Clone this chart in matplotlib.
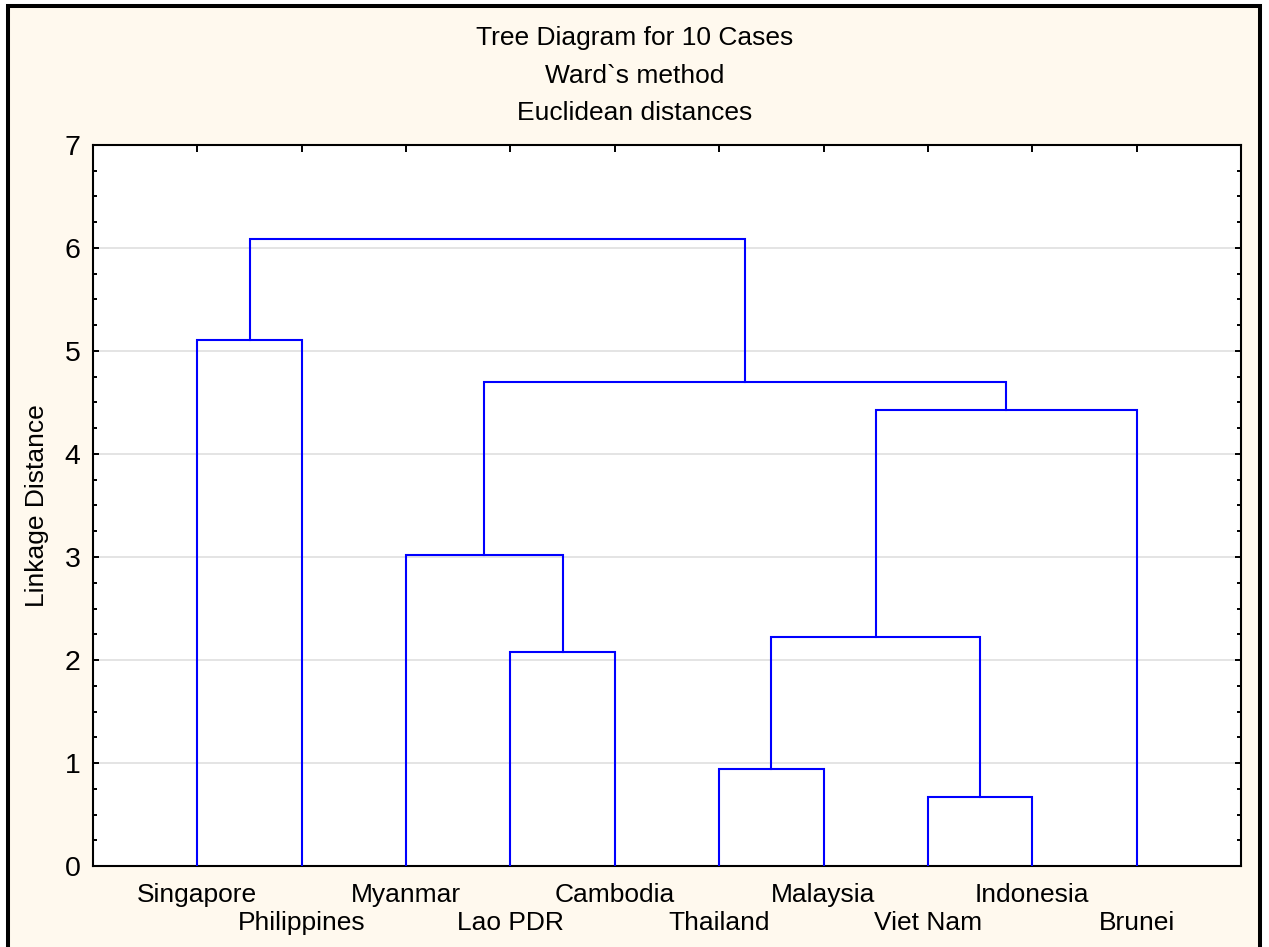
import matplotlib
matplotlib.use("Agg")
import matplotlib.pyplot as plt
from matplotlib.patches import Rectangle
from matplotlib.ticker import MultipleLocator

plt.rcParams['font.family'] = ['Liberation Sans', 'DejaVu Sans']

# Leaf order (left to right)
labels = ["Singapore", "Philippines", "Myanmar", "Lao PDR", "Cambodia",
          "Thailand", "Malaysia", "Viet Nam", "Indonesia", "Brunei"]
# Merges: (child a, child b, linkage distance); leaves 0-9, new clusters 10+
merge_a = [0, 3, 2, 5, 7, 13, 15, 12, 10]
merge_b = [1, 4, 11, 6, 8, 14, 9, 16, 17]
merge_h = [5.11, 2.08, 3.02, 0.94, 0.67, 2.22, 4.43, 4.70, 6.09]

W, H = 1269, 947
fig = plt.figure(figsize=(W / 100, H / 100), dpi=100, facecolor="white")

# cream background with black frame (left, top, right)
bg = Rectangle((8 / W, -0.05), (1260 - 8) / W, (941 / H) + 0.05,
               transform=fig.transFigure, facecolor="#FFF9EE",
               edgecolor="black", linewidth=2.9, zorder=-10)
fig.patches.append(bg)

ax = fig.add_axes([93 / W, 1 - 866 / H, (1241 - 93) / W, (866 - 145) / H])
ax.set_facecolor("white")

n = len(labels)
xpos = {i: i + 1 for i in range(n)}
ypos = {i: 0.0 for i in range(n)}
for k, (a, b, h) in enumerate(zip(merge_a, merge_b, merge_h)):
    xa, xb = xpos[a], xpos[b]
    ya, yb = ypos[a], ypos[b]
    ax.plot([xa, xa, xb, xb], [ya, h, h, yb], color="#0000FF", lw=1.5,
            solid_joinstyle="miter", zorder=3)
    xpos[n + k] = (xa + xb) / 2
    ypos[n + k] = h

ax.set_xlim(0, n + 1)
ax.set_ylim(0, 7)

ax.yaxis.set_major_locator(MultipleLocator(1))
ax.yaxis.set_minor_locator(MultipleLocator(0.25))
ax.yaxis.grid(True, which="major", color="#E4E4E4", lw=1.4, zorder=0)
ax.set_axisbelow(True)

ax.tick_params(axis="y", which="both", direction="in", left=True, right=True,
               labelsize=20.5, pad=9, width=1.4)
ax.tick_params(axis="y", which="major", length=4)
ax.tick_params(axis="y", which="minor", length=3)

ax.set_xticks(range(1, n + 1))
ax.set_xticklabels([])
ax.tick_params(axis="x", which="both", direction="in", bottom=False, top=True,
               length=5, width=1.4)

for s in ax.spines.values():
    s.set_linewidth(1.5)
    s.set_color("black")

trans = ax.get_xaxis_transform()
for i, lab in enumerate(labels):
    yy = -0.0402 if i % 2 == 0 else -0.0790
    ax.text(i + 1, yy, lab, transform=trans, ha="center", va="center",
            fontsize=19, color="black")

ax.set_ylabel("Linkage Distance", fontsize=19)
ax.yaxis.set_label_coords(-0.0385, 0.5)

titles = ["Tree Diagram for 10 Cases", "Ward`s method", "Euclidean distances"]
for t, py in zip(titles, [38, 76, 113]):
    fig.text(0.5, 1 - py / H, t, ha="center", va="center", fontsize=19)

fig.savefig("out.png", dpi=100, facecolor=fig.get_facecolor())
